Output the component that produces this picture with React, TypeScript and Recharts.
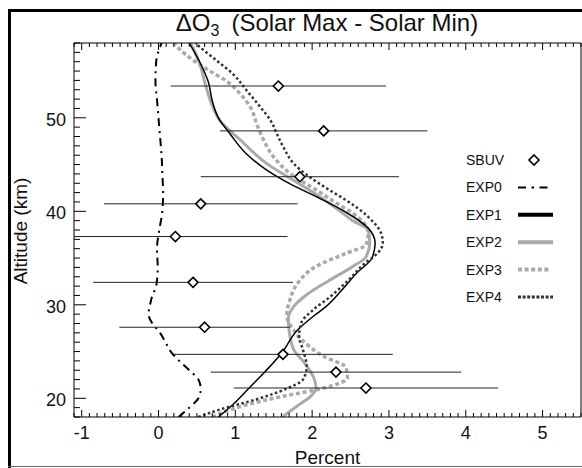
import React from 'react';
import { ComposedChart, Line, Scatter, XAxis, YAxis, ErrorBar } from 'recharts';

// ---- data (altitude km, percent) ----
// err = [minus, plus] half-widths of the SBUV uncertainty bars
const SBUV = [
  { alt: 53.4, v: 1.56, err: [1.40, 1.40] },
  { alt: 48.6, v: 2.15, err: [1.35, 1.35] },
  { alt: 43.7, v: 1.84, err: [1.29, 1.29] },
  { alt: 40.8, v: 0.55, err: [1.26, 1.26] },
  { alt: 37.3, v: 0.22, err: [1.32, 1.46] },
  { alt: 32.4, v: 0.45, err: [1.30, 1.30] },
  { alt: 27.6, v: 0.60, err: [1.11, 1.11] },
  { alt: 24.7, v: 1.62, err: [1.43, 1.43] },
  { alt: 22.8, v: 2.31, err: [1.63, 1.63] },
  { alt: 21.1, v: 2.70, err: [1.72, 1.72] },
];

const EXP0 = [
  { alt: 18.0, v: 0.26 }, { alt: 19.0, v: 0.40 }, { alt: 20.0, v: 0.52 },
  { alt: 21.0, v: 0.55 }, { alt: 22.0, v: 0.52 }, { alt: 23.0, v: 0.40 },
  { alt: 24.0, v: 0.27 }, { alt: 25.0, v: 0.16 }, { alt: 26.0, v: 0.09 },
  { alt: 27.0, v: 0.02 }, { alt: 28.0, v: -0.08 }, { alt: 29.0, v: -0.13 },
  { alt: 30.0, v: -0.11 }, { alt: 31.0, v: -0.08 }, { alt: 32.0, v: -0.03 },
  { alt: 34.0, v: -0.01 }, { alt: 36.0, v: -0.02 }, { alt: 38.0, v: 0.01 },
  { alt: 40.0, v: 0.05 }, { alt: 42.0, v: 0.06 }, { alt: 44.0, v: 0.05 },
  { alt: 46.0, v: 0.04 }, { alt: 48.0, v: 0.02 }, { alt: 50.0, v: 0.0 },
  { alt: 52.0, v: -0.02 }, { alt: 54.0, v: -0.04 }, { alt: 56.0, v: -0.03 },
  { alt: 58.0, v: 0.04 },
];

const EXP1 = [
  { alt: 18.0, v: 0.78 }, { alt: 19.5, v: 0.99 }, { alt: 21.1, v: 1.18 },
  { alt: 22.7, v: 1.37 }, { alt: 24.9, v: 1.61 }, { alt: 27.3, v: 1.81 },
  { alt: 28.8, v: 2.02 }, { alt: 29.8, v: 2.18 }, { alt: 31.6, v: 2.39 },
  { alt: 33.4, v: 2.58 }, { alt: 35.0, v: 2.78 }, { alt: 36.6, v: 2.82 },
  { alt: 38.2, v: 2.73 }, { alt: 39.9, v: 2.44 }, { alt: 41.5, v: 2.07 },
  { alt: 42.9, v: 1.72 }, { alt: 44.4, v: 1.41 }, { alt: 46.1, v: 1.15 },
  { alt: 48.3, v: 0.93 }, { alt: 50.0, v: 0.78 }, { alt: 51.8, v: 0.70 },
  { alt: 53.8, v: 0.65 }, { alt: 55.4, v: 0.57 }, { alt: 58.0, v: 0.40 },
];

const EXP2 = [
  { alt: 18.0, v: 1.61 }, { alt: 19.2, v: 1.81 }, { alt: 20.2, v: 1.98 },
  { alt: 21.1, v: 2.05 }, { alt: 22.0, v: 2.03 }, { alt: 23.8, v: 1.90 },
  { alt: 25.2, v: 1.76 }, { alt: 27.3, v: 1.70 }, { alt: 28.6, v: 1.69 },
  { alt: 29.8, v: 1.76 }, { alt: 31.2, v: 1.95 }, { alt: 32.5, v: 2.20 },
  { alt: 34.1, v: 2.53 }, { alt: 35.1, v: 2.70 }, { alt: 36.6, v: 2.75 },
  { alt: 38.0, v: 2.73 }, { alt: 39.0, v: 2.53 }, { alt: 40.1, v: 2.35 },
  { alt: 41.5, v: 2.11 }, { alt: 43.3, v: 1.76 }, { alt: 45.1, v: 1.41 },
  { alt: 47.6, v: 1.07 }, { alt: 49.7, v: 0.80 }, { alt: 51.3, v: 0.70 },
  { alt: 53.6, v: 0.61 }, { alt: 55.7, v: 0.54 }, { alt: 58.0, v: 0.42 },
];

const EXP3 = [
  { alt: 18.0, v: 0.70 }, { alt: 18.6, v: 0.88 }, { alt: 19.2, v: 1.10 },
  { alt: 20.2, v: 1.61 }, { alt: 21.1, v: 2.15 }, { alt: 22.2, v: 2.46 },
  { alt: 23.3, v: 2.44 }, { alt: 24.5, v: 2.15 }, { alt: 26.3, v: 1.86 },
  { alt: 27.3, v: 1.76 }, { alt: 28.8, v: 1.67 }, { alt: 30.5, v: 1.71 },
  { alt: 32.3, v: 1.81 }, { alt: 34.1, v: 2.05 }, { alt: 35.5, v: 2.44 },
  { alt: 36.4, v: 2.70 }, { alt: 37.6, v: 2.73 }, { alt: 39.8, v: 2.53 },
  { alt: 40.8, v: 2.33 }, { alt: 42.2, v: 2.07 }, { alt: 44.0, v: 1.72 },
  { alt: 45.8, v: 1.50 }, { alt: 47.6, v: 1.37 }, { alt: 49.3, v: 1.28 },
  { alt: 51.1, v: 1.20 }, { alt: 52.5, v: 1.07 }, { alt: 53.9, v: 0.89 },
  { alt: 55.0, v: 0.67 }, { alt: 56.1, v: 0.46 }, { alt: 57.3, v: 0.28 },
  { alt: 58.0, v: 0.20 },
];

const EXP4 = [
  { alt: 18.0, v: 0.52 }, { alt: 18.8, v: 0.80 }, { alt: 19.9, v: 1.28 },
  { alt: 21.0, v: 1.66 }, { alt: 22.0, v: 1.88 }, { alt: 23.4, v: 1.93 },
  { alt: 25.2, v: 1.88 }, { alt: 26.6, v: 1.83 }, { alt: 28.1, v: 1.86 },
  { alt: 29.5, v: 2.02 }, { alt: 30.9, v: 2.24 }, { alt: 32.7, v: 2.48 },
  { alt: 34.4, v: 2.68 }, { alt: 35.5, v: 2.85 }, { alt: 36.6, v: 2.92 },
  { alt: 37.6, v: 2.90 }, { alt: 39.4, v: 2.73 }, { alt: 41.2, v: 2.44 },
  { alt: 42.2, v: 2.24 }, { alt: 43.6, v: 1.98 }, { alt: 45.1, v: 1.76 },
  { alt: 46.8, v: 1.63 }, { alt: 48.3, v: 1.54 }, { alt: 49.7, v: 1.46 },
  { alt: 51.1, v: 1.33 }, { alt: 52.9, v: 1.15 }, { alt: 54.6, v: 0.98 },
  { alt: 56.1, v: 0.76 }, { alt: 57.7, v: 0.52 }, { alt: 58.0, v: 0.48 },
];

const X_MAJOR = [-1, 0, 1, 2, 3, 4, 5];
const Y_MAJOR = [20, 30, 40, 50];
const X_TICKS = Array.from({ length: 67 }, (_, i) => Math.round(-11 + i) / 10);
const Y_TICKS = Array.from({ length: 41 }, (_, i) => 18 + i);

const TITLE_MAIN = 'ΔO';
const TITLE_SUB = '3';
const TITLE_REST = '(Solar Max - Solar Min)';
const X_LABEL = 'Percent';
const Y_LABEL = 'Altitude (km)';
const LEGEND = ['SBUV', 'EXP0', 'EXP1', 'EXP2', 'EXP3', 'EXP4'];

const FONT = '"Liberation Sans", Arial, Helvetica, sans-serif';

const isMajor = (arr: number[], v: number) => arr.some((m) => Math.abs(m - v) < 1e-6);

const BottomTick = (props: any) => {
  const { x, y, payload } = props;
  const major = isMajor(X_MAJOR, payload.value);
  return (
    <g>
      <line x1={x} x2={x} y1={y} y2={y - (major ? 7 : 4)} stroke="#000" strokeWidth={1} />
      {major && (
        <text x={x} y={y + 21.5} textAnchor="middle" fontSize={18} fontFamily={FONT} fill="#111">
          {String(Math.round(payload.value))}
        </text>
      )}
    </g>
  );
};

const TopTick = (props: any) => {
  const { x, y, payload } = props;
  const major = isMajor(X_MAJOR, payload.value);
  return <line x1={x} x2={x} y1={y} y2={y + (major ? 7 : 4)} stroke="#000" strokeWidth={1} />;
};

const LeftTick = (props: any) => {
  const { x, y, payload } = props;
  const major = isMajor(Y_MAJOR, payload.value);
  return (
    <g>
      <line x1={x} x2={x + (major ? 12 : 6)} y1={y} y2={y} stroke="#000" strokeWidth={1} />
      {major && (
        <text x={x - 8} y={y + 8} textAnchor="end" fontSize={18} fontFamily={FONT} fill="#111">
          {String(payload.value)}
        </text>
      )}
    </g>
  );
};

const RightTick = (props: any) => {
  const { x, y, payload } = props;
  const major = isMajor(Y_MAJOR, payload.value);
  return <line x1={x} x2={x - (major ? 11 : 5)} y1={y} y2={y} stroke="#000" strokeWidth={1} />;
};

const Diamond = (props: any) => {
  const { cx, cy } = props;
  if (cx == null || cy == null) return null;
  const r = 5;
  return (
    <path
      d={`M${cx},${cy - r}L${cx + r},${cy}L${cx},${cy + r}L${cx - r},${cy}Z`}
      fill="#fff"
      stroke="#000"
      strokeWidth={1.6}
    />
  );
};

const legendY = (i: number) => 160 + i * 27.4;

export default function App() {
  return (
    <div style={{ position: 'absolute', left: 0, top: 0, width: 582, height: 468, background: '#fff' }}>
      <ComposedChart
        width={582}
        height={468}
        layout="vertical"
        margin={{ top: 42, right: 0, bottom: 50, left: 73 }}
      >
        <XAxis
          type="number"
          dataKey="v"
          domain={[-1.1, 5.5]}
          allowDataOverflow
          ticks={X_TICKS}
          interval={0}
          height={1}
          tickSize={0}
          tickMargin={0}
          tickLine={false}
          axisLine={{ stroke: '#000' }}
          tick={<BottomTick />}
        />
        <XAxis
          xAxisId="top"
          orientation="top"
          type="number"
          domain={[-1.1, 5.5]}
          allowDataOverflow
          ticks={X_TICKS}
          interval={0}
          height={1}
          tickSize={0}
          tickMargin={0}
          tickLine={false}
          axisLine={{ stroke: '#000' }}
          tick={<TopTick />}
        />
        <YAxis
          type="number"
          dataKey="alt"
          domain={[18, 58]}
          reversed
          allowDataOverflow
          ticks={Y_TICKS}
          interval={0}
          width={1}
          tickSize={0}
          tickMargin={0}
          tickLine={false}
          axisLine={{ stroke: '#000' }}
          tick={<LeftTick />}
        />
        <YAxis
          yAxisId="right"
          orientation="right"
          type="number"
          domain={[18, 58]}
          reversed
          allowDataOverflow
          ticks={Y_TICKS}
          interval={0}
          width={1}
          tickSize={0}
          tickMargin={0}
          tickLine={false}
          axisLine={{ stroke: '#000' }}
          tick={<RightTick />}
        />
        <Line data={EXP0} dataKey="v" type="monotone" stroke="#000" strokeWidth={2}
          strokeDasharray="8 5 2 5" dot={false} isAnimationActive={false} />
        <Line data={EXP2} dataKey="v" type="monotone" stroke="#aaaaaa" strokeWidth={3}
          dot={false} isAnimationActive={false} />
        <Line data={EXP3} dataKey="v" type="monotone" stroke="#aaaaaa" strokeWidth={3.5}
          strokeDasharray="4 2.7" dot={false} isAnimationActive={false} />
        <Line data={EXP1} dataKey="v" type="monotone" stroke="#000" strokeWidth={1.5}
          dot={false} isAnimationActive={false} />
        <Line data={EXP4} dataKey="v" type="monotone" stroke="#333" strokeWidth={2.5}
          strokeDasharray="2.5 2.5" dot={false} isAnimationActive={false} />
        <Scatter data={SBUV} dataKey="v" shape={<Diamond />} isAnimationActive={false}>
          <ErrorBar dataKey="err" direction="x" width={0} stroke="#222" strokeWidth={1} isAnimationActive={false} />
        </Scatter>
      </ComposedChart>
      <svg
        width={582}
        height={468}
        style={{ position: 'absolute', left: 0, top: 0, pointerEvents: 'none' }}
      >
        {/* outer frame */}
        <line x1={9.5} x2={9.5} y1={9} y2={468} stroke="#000" strokeWidth={3} />
        <line x1={8} x2={582} y1={10.5} y2={10.5} stroke="#000" strokeWidth={3} />
        <line x1={8} x2={582} y1={466.5} y2={466.5} stroke="#666" strokeWidth={1} />
        {/* title */}
        <text x={327} y={31} textAnchor="middle" fontSize={24} fontFamily={FONT} fill="#111">
          {TITLE_MAIN}
          <tspan fontSize={16} dy={5}>{TITLE_SUB}</tspan>
          <tspan dy={-5} dx={12}>{TITLE_REST}</tspan>
        </text>
        {/* axis labels */}
        <text x={327.5} y={464} textAnchor="middle" fontSize={19} fontFamily={FONT} fill="#111">
          {X_LABEL}
        </text>
        <text
          x={27}
          y={231}
          textAnchor="middle"
          fontSize={19}
          fontFamily={FONT}
          fill="#111"
          transform="rotate(-90 27 231)"
        >
          {Y_LABEL}
        </text>
        {/* legend */}
        {LEGEND.map((name, i) => (
          <text key={name} x={466} y={legendY(i) + 5} fontSize={14} fontFamily={FONT} fill="#111">
            {name}
          </text>
        ))}
        <path
          d={`M534,${legendY(0) - 5}L539,${legendY(0)}L534,${legendY(0) + 5}L529,${legendY(0)}Z`}
          fill="#fff"
          stroke="#000"
          strokeWidth={1.6}
        />
        <line x1={518} x2={549} y1={legendY(1)} y2={legendY(1)} stroke="#000" strokeWidth={2} strokeDasharray="8 5.5 2.5 5.5" />
        <line x1={518} x2={553} y1={legendY(2)} y2={legendY(2)} stroke="#000" strokeWidth={4} />
        <line x1={518} x2={553} y1={legendY(3)} y2={legendY(3)} stroke="#aaaaaa" strokeWidth={4} />
        <line x1={518} x2={551} y1={legendY(4)} y2={legendY(4)} stroke="#aaaaaa" strokeWidth={4} strokeDasharray="4 2.6" />
        <line x1={518} x2={553} y1={legendY(5)} y2={legendY(5)} stroke="#333" strokeWidth={3} strokeDasharray="3 1.6" />
      </svg>
    </div>
  );
}
